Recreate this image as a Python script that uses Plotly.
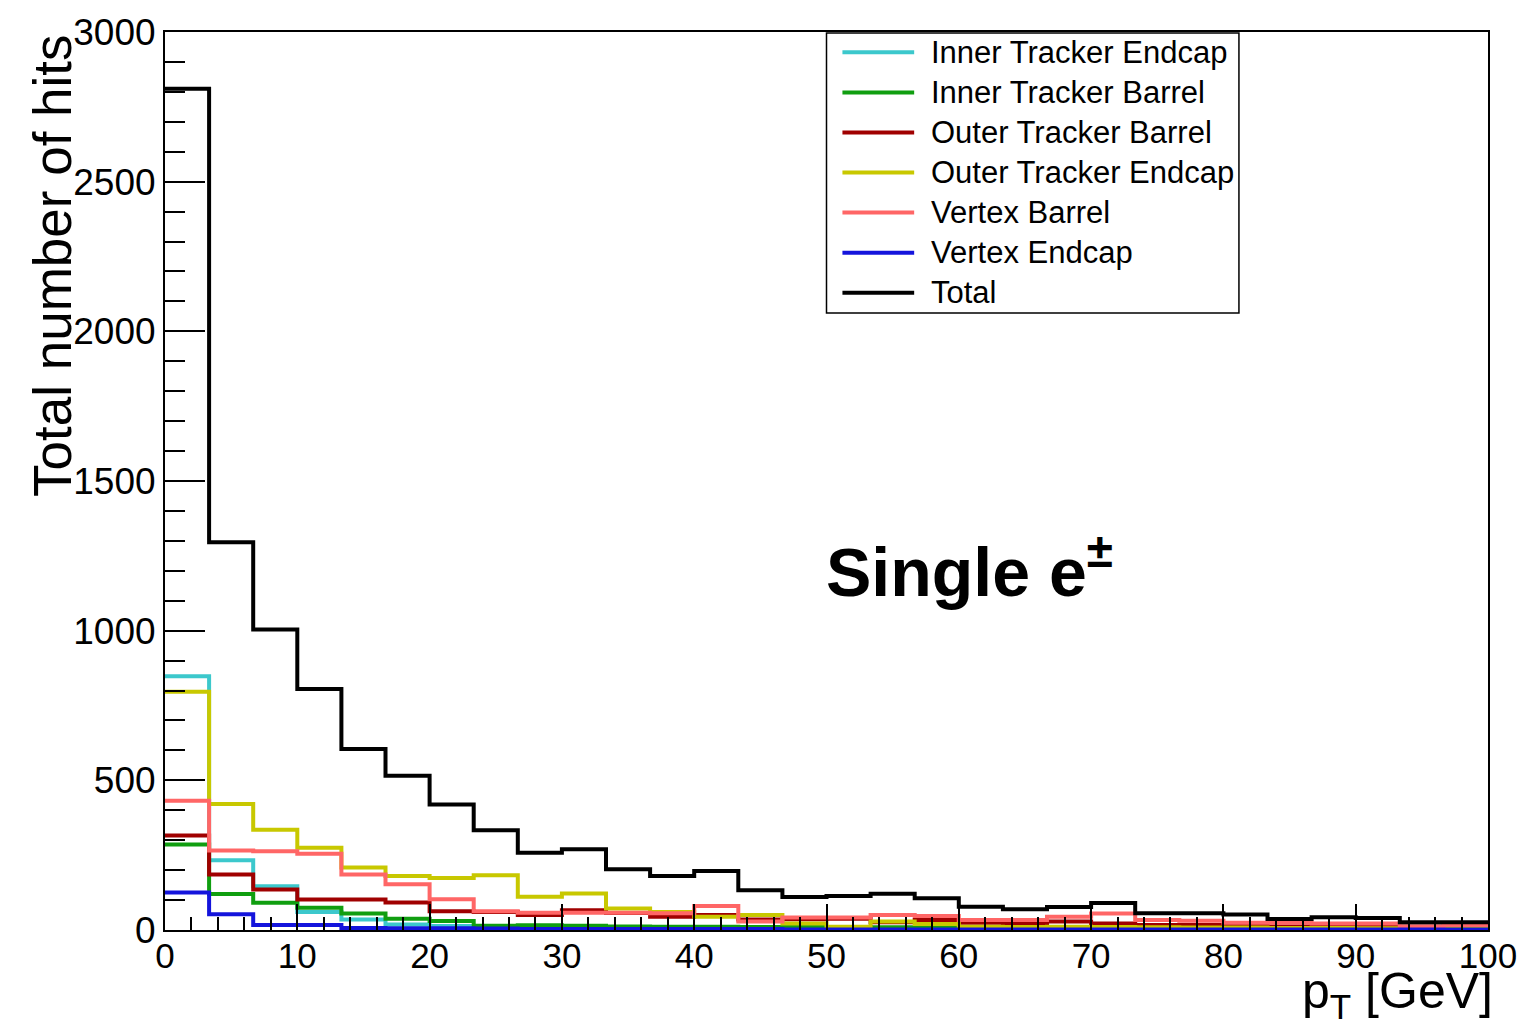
import numpy as np
import plotly.graph_objects as go

# ---------------- data ----------------
pt_min, pt_max, n_bins = 0.0, 100.0, 30

series_names = [
    "Inner Tracker Endcap",
    "Inner Tracker Barrel",
    "Outer Tracker Barrel",
    "Outer Tracker Endcap",
    "Vertex Barrel",
    "Vertex Endcap",
    "Total",
]

inner_tracker_endcap = [848, 233, 146, 60, 35, 18, 13, 10, 9, 8, 8, 7, 7, 6, 6,
                        5, 5, 5, 4, 4, 4, 4, 3, 3, 3, 3, 3, 3, 2, 2]
inner_tracker_barrel = [286, 120, 91, 74, 55, 38, 30, 14, 16, 14, 12, 11, 11, 10, 10,
                        10, 9, 9, 8, 8, 9, 11, 7, 7, 6, 6, 5, 5, 5, 5]
outer_tracker_barrel = [316, 185, 135, 102, 102, 92, 63, 60, 50, 66, 57, 44, 50, 35, 36,
                        38, 26, 33, 24, 22, 28, 22, 17, 17, 17, 12, 13, 12, 12, 14]
outer_tracker_endcap = [796, 421, 335, 275, 209, 180, 174, 183, 111, 122, 72, 60, 44, 50, 22,
                        11, 28, 20, 11, 10, 11, 10, 9, 8, 8, 7, 7, 6, 6, 5]
vertex_barrel = [432, 266, 263, 255, 185, 153, 103, 63, 58, 58, 58, 56, 80, 28, 42,
                 42, 50, 47, 33, 33, 44, 55, 33, 31, 24, 24, 22, 22, 11, 17]
vertex_endcap = [125, 53, 17, 17, 7, 6, 6, 5, 3, 3, 3, 3, 3, 3, 2,
                 2, 2, 2, 2, 2, 2, 2, 2, 2, 2, 2, 2, 2, 2, 2]
total_hits = [2810, 1295, 1004, 805, 605, 515, 419, 333, 258, 270, 203, 180, 197, 133, 110,
              114, 121, 106, 78, 69, 77, 90, 56, 56, 52, 37, 43, 40, 26, 26]

series_values = [inner_tracker_endcap, inner_tracker_barrel, outer_tracker_barrel,
                 outer_tracker_endcap, vertex_barrel, vertex_endcap, total_hits]
series_colors = ["#3cc8cc", "#109e10", "#a00000", "#c8c800", "#ff6666", "#1414dc", "#000000"]

x_title = "p<sub>T</sub> [GeV]"
y_title = "Total number of hits"
label_text = "<b>Single e<sup>±</sup></b>"

# ---------------- figure ----------------
W, H = 1529, 1029
PL, PR, PT, PB = 165, 1493, 26, 930  # plot area in pixels
FONT = "Liberation Sans, Arial, Helvetica, sans-serif"


def px_x(p):
    return (p - PL) / (PR - PL)


def px_y(p):
    return (PB - p) / (PB - PT)


edges = np.linspace(pt_min, pt_max, n_bins + 1)

fig = go.Figure()
for name, vals, col in zip(series_names, series_values, series_colors):
    xs = list(edges)
    ys = list(vals) + [vals[-1]]
    fig.add_trace(go.Scatter(
        x=xs, y=ys, mode="lines", name=name, showlegend=False,
        line=dict(shape="hv", color=col, width=4),
        hoverinfo="skip",
    ))

fig.update_layout(
    width=W, height=H, autosize=False,
    margin=dict(l=PL, r=W - PR, t=PT, b=H - PB, pad=0),
    paper_bgcolor="white", plot_bgcolor="white",
    font=dict(family=FONT, color="black"),
    showlegend=False,
)

fig.update_xaxes(
    range=[pt_min, pt_max], tick0=0, dtick=10,
    ticks="inside", ticklen=26, tickwidth=1.5, tickcolor="black",
    minor=dict(ticks="inside", ticklen=13, dtick=2, tickwidth=1.5, tickcolor="black", showgrid=False),
    showline=True, linecolor="black", linewidth=2, mirror=True,
    showgrid=False, zeroline=False,
    tickfont=dict(size=35, family=FONT, color="black"),
    ticklabelstandoff=-6,
)
fig.update_yaxes(
    range=[0, 3000], tick0=0, dtick=500,
    ticks="inside", ticklen=40, tickwidth=1.5, tickcolor="black",
    minor=dict(ticks="inside", ticklen=20, dtick=100, tickwidth=1.5, tickcolor="black", showgrid=False),
    showline=True, linecolor="black", linewidth=2, mirror=True,
    showgrid=False, zeroline=False,
    tickfont=dict(size=37, family=FONT, color="black"),
)

annotations = [
    dict(text=y_title, xref="paper", yref="paper", x=px_x(52), y=px_y(26),
         xanchor="center", yanchor="top", textangle=-90, showarrow=False,
         font=dict(size=53, family=FONT, color="black")),
    dict(text=x_title, xref="paper", yref="paper", x=px_x(1500), y=px_y(995),
         xanchor="right", yanchor="middle", showarrow=False,
         font=dict(size=50, family=FONT, color="black")),
    dict(text=label_text, xref="paper", yref="paper", x=px_x(826), y=px_y(565),
         xanchor="left", yanchor="middle", showarrow=False,
         font=dict(size=68, family=FONT, color="black")),
]

shapes = [
    dict(type="rect", xref="paper", yref="paper",
         x0=px_x(829), x1=px_x(1243), y0=px_y(309), y1=px_y(27),
         line=dict(color="black", width=1.5), fillcolor="white", layer="above"),
]

row0, row_step = 46.5, 40.33
for i, (name, col) in enumerate(zip(series_names, series_colors)):
    yy = px_y(row0 + i * row_step)
    shapes.append(dict(type="line", xref="paper", yref="paper",
                       x0=px_x(845), x1=px_x(917), y0=yy, y1=yy,
                       line=dict(color=col, width=4), layer="above"))
    annotations.append(dict(text=name, xref="paper", yref="paper",
                            x=px_x(932), y=yy, xanchor="left", yanchor="middle",
                            showarrow=False,
                            font=dict(size=31, family=FONT, color="black")))

fig.update_layout(annotations=annotations, shapes=shapes)

fig.write_html("out.html")
